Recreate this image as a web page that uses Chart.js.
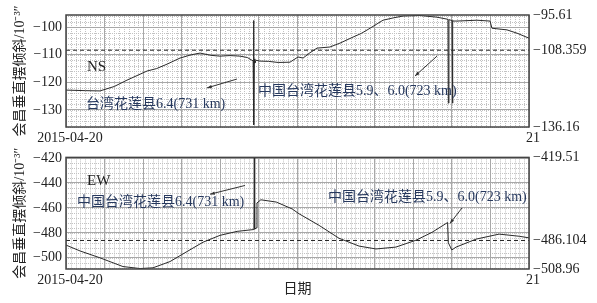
<!DOCTYPE html>
<html>
<head>
<meta charset="utf-8">
<script src="https://cdn.jsdelivr.net/npm/chart.js@4.4.0/dist/chart.umd.min.js"></script>
<style>
  body { margin: 0; background: #fff; }
  #wrap { position: relative; width: 597px; height: 303px; }
  canvas { position: absolute; left: 0; }
</style>
</head>
<body>
<div id="wrap">
  <canvas id="ns" width="597" height="145" style="top:0"></canvas>
  <canvas id="ew" width="597" height="158" style="top:145px"></canvas>
</div>
<script>
// tick labels / titles
var xTickLabels = ['2015-04-20', '21'];
var yTitle = '会昌垂直摆倾斜/10⁻³″';
var xTitle = '日期';

// NS component (hours of 2015-04-20, tilt value)
var nsHours = [0, 1.0, 1.76, 2.5, 3.16, 4.2, 4.7, 5.24, 5.91, 6.5, 6.95, 7.5, 7.98, 8.5, 9.02, 9.4, 9.64,
  9.70, 9.72, 9.74, 9.76, 9.79, 9.85, 10.06, 10.5, 11.0, 11.61, 12.03, 12.29, 12.6, 13.01, 13.68, 14.2,
  14.88, 15.3, 15.76, 16.43, 17.0, 17.47, 18.35, 19.23, 19.75, 19.80, 19.82, 19.85, 19.95, 20.01, 20.03,
  20.06, 20.27, 21.3, 21.98, 22.08, 22.86, 23.38, 24];
var nsValues = [-122.8, -123.0, -123.1, -121.5, -119.2, -115.9, -115.0, -113.4, -111.2, -110.0, -109.4, -110.2,
  -110.5, -110.3, -110.5, -111.0, -112.0, -112.2, -97.6, -135.4, -111.5, -113.0, -112.0, -112.3, -112.4,
  -112.8, -112.7, -110.8, -111.2, -109.5, -107.6, -107.2, -105.8, -103.6, -102.3, -100.4, -97.5, -96.6,
  -96.0, -95.8, -96.4, -97.1, -97.2, -127.5, -97.3, -97.5, -97.6, -127.5, -97.8, -97.8, -97.5, -97.8,
  -100.4, -101.0, -102.2, -104.0];
var nsLeftTicks = [-130, -120, -110, -100];
var nsRightTicks = [-136.16, -108.359, -95.61];

// EW component
var ewHours = [0, 0.73, 1.76, 2.95, 3.84, 4.51, 5.39, 6.27, 7.1, 7.98, 8.87, 9.74, 9.76, 9.78, 9.87, 9.9,
  10.1, 10.9, 11.72, 12.08, 13.12, 14.15, 15.19, 16.07, 17.1, 18.14, 18.97, 19.7, 19.78, 19.82, 20.0,
  20.22, 21.26, 22.45, 23.49, 24];
var ewValues = [-489.8, -494.5, -500, -507, -508.6, -508, -503, -495, -487.5, -482, -478.8, -477.3, -419.5,
  -477, -476, -456, -453.5, -455.3, -460.8, -464.7, -474, -484.3, -490.6, -492.9, -491.4, -485.9, -479.6,
  -472.5, -471.7, -488, -493.7, -491.4, -485, -481, -482.7, -484];
var ewLeftTicks = [-500, -480, -460, -440, -420];
var ewRightTicks = [-508.96, -486.104, -419.51];

// annotations, placed in data units
var nsNotes = [
  { text: 'NS', x: 1.09, y: -114.5, size: 15, color: '#222' },
  { text: '台湾花莲县6.4(731 km)', x: 1.04, y: -127.8, size: 14, color: '#27395e' },
  { text: '中国台湾花莲县5.9、6.0(723 km)', x: 9.95, y: -123.1, size: 14, color: '#27395e' }
];
var nsArrows = [[7.31, -122.0, 8.86, -118.8], [18.09, -117.7, 19.23, -110.5]];
var ewNotes = [
  { text: 'EW', x: 1.09, y: -438.8, size: 15, color: '#222' },
  { text: '中国台湾花莲县6.4(731 km)', x: 0.57, y: -455.3, size: 14, color: '#27395e' },
  { text: '中国台湾花莲县5.9、6.0(723 km)', x: 13.58, y: -451.4, size: 14, color: '#27395e' }
];
var ewArrows = [[7.47, -449, 9.28, -442], [19.9, -472.5, 20.53, -460]];

var FONT = "'Liberation Serif', 'Noto Sans CJK SC', serif";

var panelPlugin = {
  id: 'panel',
  beforeDraw: function(chart) {
    var ctx = chart.ctx, a = chart.chartArea, sx = chart.scales.x, sy = chart.scales.y;
    var o = chart.options.plugins.panel;
    ctx.save();
    ctx.fillStyle = '#fff';
    ctx.fillRect(0, 0, chart.width, chart.height);
    ctx.strokeStyle = '#c2c2c2';
    ctx.lineWidth = 1;
    ctx.setLineDash([1, 1]);
    ctx.beginPath();
    for (var h = 0; h <= 24; h += 0.25) {
      var px = Math.round(sx.getPixelForValue(h)) + 0.5;
      ctx.moveTo(px, a.top); ctx.lineTo(px, a.bottom);
    }
    for (var v = Math.ceil(sy.min / o.yStep) * o.yStep; v <= sy.max; v += o.yStep) {
      var py = Math.round(sy.getPixelForValue(v)) + 0.5;
      ctx.moveTo(a.left, py); ctx.lineTo(a.right, py);
    }
    ctx.stroke();
    ctx.restore();
  },
  afterDatasetsDraw: function(chart) {
    var ctx = chart.ctx, a = chart.chartArea, sx = chart.scales.x, sy = chart.scales.y;
    var o = chart.options.plugins.panel;
    ctx.save();
    ctx.strokeStyle = '#444';
    ctx.lineWidth = 1.5;
    ctx.strokeRect(a.left, a.top, a.right - a.left, a.bottom - a.top);
    ctx.textBaseline = 'middle';
    ctx.textAlign = 'left';
    o.notes.forEach(function(n) {
      ctx.font = n.size + 'px ' + FONT;
      ctx.fillStyle = n.color;
      ctx.fillText(n.text, sx.getPixelForValue(n.x), sy.getPixelForValue(n.y));
    });
    ctx.strokeStyle = '#333';
    ctx.fillStyle = '#333';
    ctx.lineWidth = 1;
    o.arrows.forEach(function(r) {
      var x1 = sx.getPixelForValue(r[0]), y1 = sy.getPixelForValue(r[1]);
      var x2 = sx.getPixelForValue(r[2]), y2 = sy.getPixelForValue(r[3]);
      ctx.beginPath(); ctx.moveTo(x1, y1); ctx.lineTo(x2, y2); ctx.stroke();
      var ang = Math.atan2(y1 - y2, x1 - x2);
      ctx.beginPath();
      ctx.moveTo(x1, y1);
      ctx.lineTo(x1 - 5 * Math.cos(ang - 0.35), y1 - 5 * Math.sin(ang - 0.35));
      ctx.lineTo(x1 - 5 * Math.cos(ang + 0.35), y1 - 5 * Math.sin(ang + 0.35));
      ctx.closePath(); ctx.fill();
    });
    ctx.restore();
  }
};

function minus(v) { return '−' + Math.abs(v); }

function makePanel(id, hours, values, leftTicks, rightTicks, notes, arrows, cfg) {
  var pts = hours.map(function(h, i) { return { x: h, y: values[i] }; });
  var lo = rightTicks[0], hi = rightTicks[2];
  var font = { family: FONT, size: 14 };
  return new Chart(document.getElementById(id), {
    type: 'line',
    data: {
      datasets: [
        { data: pts, borderColor: '#2a2a2a', borderWidth: 1, pointRadius: 0, tension: 0 },
        { data: [{ x: 0, y: rightTicks[1] }, { x: 24, y: rightTicks[1] }], borderColor: '#222',
          borderWidth: 1, borderDash: [4, 3], pointRadius: 0 }
      ]
    },
    options: {
      responsive: false,
      animation: false,
      events: [],
      layout: { padding: { top: cfg.padTop, left: 0, right: 0, bottom: 0 } },
      plugins: {
        legend: { display: false },
        tooltip: { enabled: false },
        panel: { yStep: cfg.yStep, notes: notes, arrows: arrows }
      },
      scales: {
        x: {
          type: 'linear', min: 0, max: 24,
          afterBuildTicks: function(s) {
            var t = [];
            for (var h = 0; h <= 24; h += 2) t.push({ value: h });
            s.ticks = t;
          },
          ticks: {
            autoSkip: false, maxRotation: 0, padding: 3, labelOffset: 4, color: '#222', font: font,
            callback: function(v) { return v === 0 ? xTickLabels[0] : (v === 24 ? xTickLabels[1] : ''); }
          },
          grid: { color: '#a8a8a8', lineWidth: 1, drawTicks: false },
          border: { display: false },
          title: { display: cfg.showXTitle, text: xTitle, color: '#222', font: font,
                   padding: { top: 0, bottom: 5 } },
          afterFit: function(s) { s.height = cfg.xHeight; }
        },
        y: {
          position: 'left', min: lo, max: hi,
          afterBuildTicks: function(s) { s.ticks = leftTicks.map(function(v) { return { value: v }; }); },
          ticks: { padding: 4, color: '#222', font: font, callback: minus },
          grid: { color: '#a8a8a8', lineWidth: 1, drawTicks: false },
          border: { display: false },
          title: { display: true, text: yTitle, color: '#222', font: font, padding: { top: 12, bottom: 0 } },
          afterFit: function(s) { s.width = 66; }
        },
        y2: {
          position: 'right', min: lo, max: hi,
          afterBuildTicks: function(s) { s.ticks = rightTicks.map(function(v) { return { value: v }; }); },
          ticks: { padding: 4, color: '#222', font: font, callback: minus },
          grid: { display: false, drawTicks: false },
          border: { display: false },
          afterFit: function(s) { s.width = 68; }
        }
      }
    },
    plugins: [panelPlugin]
  });
}

makePanel('ns', nsHours, nsValues, nsLeftTicks, nsRightTicks, nsNotes, nsArrows,
  { padTop: 15, xHeight: 18, yStep: 2, showXTitle: false });
makePanel('ew', ewHours, ewValues, ewLeftTicks, ewRightTicks, ewNotes, ewArrows,
  { padTop: 12, xHeight: 34, yStep: 4, showXTitle: true });
</script>
</body>
</html>
